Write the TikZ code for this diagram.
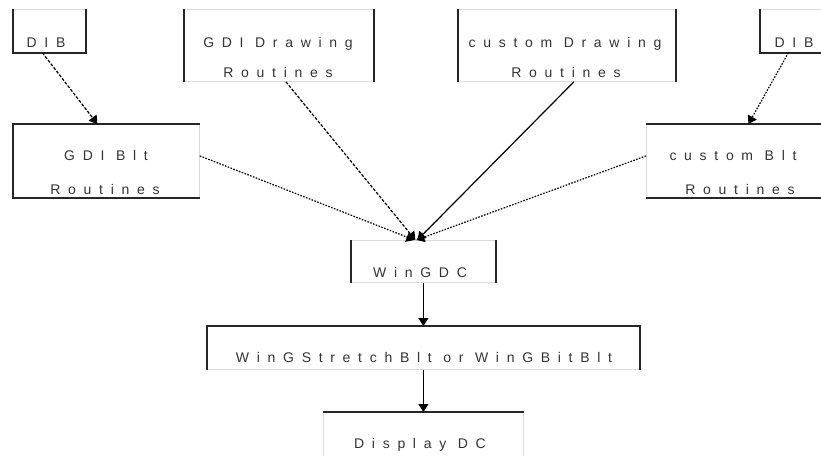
\documentclass[tikz,border=0pt]{standalone}
\usepackage{fontspec}
\setmainfont{Liberation Sans}
\newfontfamily\lblfont[LetterSpace=55]{Liberation Sans}
\usetikzlibrary{arrows.meta}
\tikzset{
  box/.style={draw=gray!30, line width=0.8pt, inner sep=0pt, anchor=north west},
  edge/.style={line width=1.7pt, black!85},
  lbl/.style={font=\lblfont\fontsize{14}{16}\selectfont, inner sep=0pt, text=black!80, anchor=base},
  conn/.style={line width=1.2pt, black},
  dashline/.style={conn, dash pattern=on 3pt off 1.6pt},
  dotline/.style={conn, dash pattern=on 1.6pt off 1.4pt},
  tip/.style={-{Triangle[length=8pt,width=10pt]}}
}
\begin{document}
\begin{tikzpicture}[x=1pt,y=-1pt]
\useasboundingbox (0,0) rectangle (821,455);
\clip (0,0) rectangle (821,455);
% boxes
\node[box, minimum width=72pt,  minimum height=43pt] (dibL)    at (13,9)    {};
\node[box, minimum width=189pt, minimum height=72pt] (gdid)    at (184,9)   {};
\node[box, minimum width=217pt, minimum height=72pt] (custd)   at (458,9)   {};
\node[box, minimum width=70pt,  minimum height=43pt] (dibR)    at (760,9)   {};
\node[box, minimum width=186pt, minimum height=73pt] (gdiblt)  at (13,124)  {};
\node[box, minimum width=178pt, minimum height=73pt] (custblt) at (646,124) {};
\node[box, minimum width=144pt, minimum height=42pt] (wingdc)  at (351,240) {};
\node[box, minimum width=432pt, minimum height=43pt] (stretch) at (207,326) {};
\node[box, minimum width=200pt, minimum height=60pt] (disp)    at (323,412) {};
% black sides
\draw[edge] (dibL.north west) -- (dibL.south west) -- (dibL.south east) -- (dibL.north east);
\draw[edge] (gdid.north west) -- (gdid.south west);
\draw[edge] (gdid.north east) -- (gdid.south east);
\draw[edge] (custd.north west) -- (custd.south west);
\draw[edge] (custd.north east) -- (custd.south east);
\draw[edge] (dibR.north west) -- (dibR.south west) -- (dibR.south east);
\draw[edge] (gdiblt.north east) -- (gdiblt.north west) -- (gdiblt.south west) -- (gdiblt.south east);
\draw[edge] (custblt.north west) -- (custblt.north east);
\draw[edge] (custblt.south west) -- (custblt.south east);
\draw[edge] (wingdc.north west) -- (wingdc.south west);
\draw[edge] (wingdc.north east) -- (wingdc.south east);
\draw[edge] (stretch.south west) -- (stretch.north west) -- (stretch.north east) -- (stretch.south east);
\draw[edge] (disp.north west) -- (disp.north east);
% labels
\node[lbl] (dibLt)   at (46,47)   {DIB};
\node[lbl] (gdidt1)  at (278,47)  {GDI Drawing};
\node[lbl] (gdidt2)  at (278,77)  {Routines};
\node[lbl] (custdt1) at (565,47)  {custom Drawing};
\node[lbl] (custdt2) at (566,77)  {Routines};
\node[lbl] (dibRt)   at (794,47)  {DIB};
\node[lbl] (gdibt1)  at (106,160) {GDI Blt};
\node[lbl] (gdibt2)  at (105,194) {Routines};
\node[lbl] (custbt1) at (733,160) {custom Blt};
\node[lbl] (custbt2) at (740,194) {Routines};
\node[lbl] (wingdct) at (420,277) {WinGDC};
\node[lbl] (strt)    at (424,362) {WinGStretchBlt or WinGBitBlt};
\node[lbl] (dispt)   at (420,448) {Display DC};
% connectors
\draw[dashline, tip] ([xshift=-7pt]dibL.south) -- ([xshift=-9pt]gdiblt.north);
\draw[dashline, tip] ([xshift=7pt]gdid.south) -- ([xshift=-8pt]wingdc.north);
\draw[conn, tip] ([xshift=7pt]custd.south) -- ([xshift=-6pt]wingdc.north);
\draw[dotline, tip] ([yshift=5pt]gdiblt.east) -- ([xshift=-9pt]wingdc.north);
\draw[dotline, tip] ([yshift=5pt]custblt.west) -- ([xshift=-7pt]wingdc.north);
\draw[dotline, tip] ([xshift=-7pt]dibR.south) -- ([xshift=13pt]custblt.north);
\draw[conn, tip] (wingdc.south) -- (stretch.north);
\draw[conn, tip] (stretch.south) -- (disp.north);
\end{tikzpicture}
\end{document}
